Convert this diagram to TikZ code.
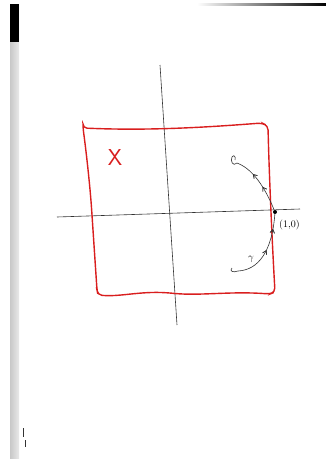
\documentclass[tikz,border=0pt]{standalone}
\usetikzlibrary{arrows.meta,positioning,decorations.markings}
\definecolor{penred}{HTML}{D91E1E}
\definecolor{pencil}{HTML}{333333}
\definecolor{scanedge}{HTML}{C8C8C8}

\begin{document}
\begin{tikzpicture}[x=1pt,y=-1pt,
    axis/.style={draw=pencil, line width=0.6pt},
    region/.style={draw=penred, line width=1.4pt, rounded corners=4pt},
    loopline/.style={draw=pencil, line width=0.6pt},
    barb/.style={postaction={decorate}, decoration={markings,
        mark=at position #1 with {\arrow{Straight Barb[length=3.5pt,width=4.5pt]}}}}]
\useasboundingbox (0,0) rectangle (326,459);

% scan edge
\shade[left color=scanedge, right color=scanedge!40] (10,4) rectangle (19,459);
\fill[black] (10,4) rectangle (19,42);
\shade[left color=white, right color=black] (197,3) rectangle (326,5.5);
\draw[pencil, line width=0.5pt] (23,428) -- (23,437);
\draw[pencil, line width=0.5pt] (25,440) -- (25,447);

% axes
\coordinate (xl) at (57,217);
\coordinate (xr) at (300,209);
\coordinate (yt) at (160,65);
\coordinate (yb) at (177,325);
\draw[axis] (xl) -- (xr);
\draw[axis] (yt) -- (yb);

% the region X
\draw[region] (83,128) .. controls (150,131) and (210,127) .. (262,123)
  -- (268,126) .. controls (269,170) and (272,240) .. (275,292)
  -- (270,294) .. controls (230,291) and (200,296) .. (170,293)
  .. controls (140,291) and (120,297) .. (98,295)
  -- (97,290) .. controls (95,260) and (93,230) .. (92,215)
  .. controls (90,185) and (86,150) .. (83,128) -- cycle;
\node[text=penred, font=\sffamily\fontsize{23}{23}\selectfont] (X) at (115,158) {X};

% the point (1,0) and the loop
\node[circle, fill=black, inner sep=0pt, minimum size=4pt] (p) at (275,212) {};
\node[font=\normalsize, anchor=west, inner sep=1pt] (one) at (278,225) {(1,0)};
\coordinate (up) at (237,163);
\coordinate (down) at (238,271);
\draw[loopline, barb=0.42, barb=0.68] (p) .. controls (268,195) and (256,170) .. (up);
\draw[loopline] (up) .. controls (233,167) and (230,161) .. (232,157)
  .. controls (234,154) and (236,157) .. (235,160);
\draw[loopline, barb=0.5, barb=0.8] (down) .. controls (258,270) and (272,252) .. (p);
\draw[loopline] (down) .. controls (233,273) and (229,271) .. (232,268);
\node[font=\normalsize] (gamma) at (251,259) {$\gamma$};
\end{tikzpicture}
\end{document}
